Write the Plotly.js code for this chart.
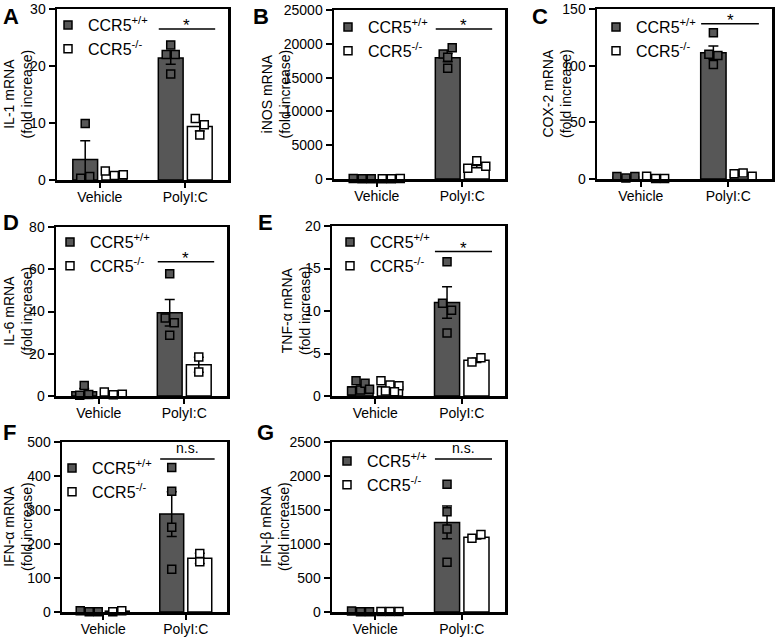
<!DOCTYPE html>
<html><head><meta charset="utf-8">
<script src="https://cdn.plot.ly/plotly-3.0.1.min.js"></script>
<style>html,body{margin:0;padding:0;background:#fff}#chart{width:777px;height:637px}</style>
</head><body><div id="chart"></div>
<script>
// ---------- DATA ----------
const categories = ['Vehicle', 'PolyI:C'];
const groupNames = ['CCR5<sup>+/+</sup>', 'CCR5<sup>-/-</sup>'];
const panelLetters = ['A', 'B', 'C', 'D', 'E', 'F', 'G'];
const yTitles = ['IL-1 mRNA<br>(fold increase)', 'iNOS mRNA<br>(fold increase)', 'COX-2 mRNA<br>(fold increase)',
  'IL-6 mRNA<br>(fold increase)', 'TNF-α mRNA<br>(fold increase)', 'IFN-α mRNA<br>(fold increase)', 'IFN-β mRNA<br>(fold increase)'];
const yMax = [30, 25000, 150, 80, 20, 500, 2500];
const yStep = [10, 5000, 50, 20, 5, 100, 500];
const sigLabels = ['*', '*', '*', '*', '*', 'n.s.', 'n.s.'];
const sigLevels = [26.5, 22200, 137, 63.5, 17, 450, 2250];

// IL-1
const il1WtPoints = [[9.9, 0.3, 0.6], [23.7, 22.0, 22.0, 18.6]];
const il1KoPoints = [[1.6, 0.8, 0.9], [10.8, 9.7, 7.9]];
const il1WtMean = [3.6, 21.4], il1WtErr = [3.3, 1.1];
const il1KoMean = [1.1, 9.4], il1KoErr = [0.2, 0.8];
// iNOS
const inosWtPoints = [[60, 50, 40], [18500, 18000, 19400, 16400]];
const inosKoPoints = [[40, 50, 60], [1600, 2700, 1900]];
const inosWtMean = [50, 17950], inosWtErr = [10, 620];
const inosKoMean = [50, 2000], inosKoErr = [5, 330];
// COX-2
const coxWtPoints = [[2.3, 0.8, 2.3], [129, 110, 109, 101]];
const coxKoPoints = [[2.4, 0.5, 0.5], [4.7, 5.3, 2.4]];
const coxWtMean = [1.8, 111.5], coxWtErr = [0.5, 5.8];
const coxKoMean = [1.1, 4.1], coxKoErr = [0.6, 0.9];
// IL-6
const il6WtPoints = [[5.0, 0.4, 0.7], [57.9, 36.9, 34.7, 28.7]];
const il6KoPoints = [[1.9, 0.6, 0.8], [18.5, 11.4]];
const il6WtMean = [2.0, 39.4], il6WtErr = [1.5, 6.3];
const il6KoMean = [1.1, 14.8], il6KoErr = [0.4, 3.5];
// TNF-alpha
const tnfWtPoints = [[1.8, 0.6, 0.7, 1.5, 0.8], [15.8, 10.9, 10.1, 7.4]];
const tnfKoPoints = [[1.8, 1.3, 1.2, 0.6, 0.5], [4.0, 4.5]];
const tnfWtMean = [1.1, 11.0], tnfWtErr = [0.25, 1.85];
const tnfKoMean = [1.1, 4.2], tnfKoErr = [0.25, 0.25];
// IFN-alpha
const ifnaWtPoints = [[4, 1, 1], [425, 355, 249, 126]];
const ifnaKoPoints = [[1, 4], [148, 172]];
const ifnaWtMean = [2, 288], ifnaWtErr = [1, 66];
const ifnaKoMean = [2.5, 158], ifnaKoErr = [1.5, 15];
// IFN-beta
const ifnbWtPoints = [[15, 5, 5], [1880, 1475, 1220, 732]];
const ifnbKoPoints = [[8, 8, 8], [1085, 1140]];
const ifnbWtMean = [8, 1318], ifnbWtErr = [3, 240];
const ifnbKoMean = [8, 1100], ifnbKoErr = [2, 25];

const panels = [
  {wtP: il1WtPoints, koP: il1KoPoints, wtM: il1WtMean, wtE: il1WtErr, koM: il1KoMean, koE: il1KoErr},
  {wtP: inosWtPoints, koP: inosKoPoints, wtM: inosWtMean, wtE: inosWtErr, koM: inosKoMean, koE: inosKoErr},
  {wtP: coxWtPoints, koP: coxKoPoints, wtM: coxWtMean, wtE: coxWtErr, koM: coxKoMean, koE: coxKoErr},
  {wtP: il6WtPoints, koP: il6KoPoints, wtM: il6WtMean, wtE: il6WtErr, koM: il6KoMean, koE: il6KoErr},
  {wtP: tnfWtPoints, koP: tnfKoPoints, wtM: tnfWtMean, wtE: tnfWtErr, koM: tnfKoMean, koE: tnfKoErr},
  {wtP: ifnaWtPoints, koP: ifnaKoPoints, wtM: ifnaWtMean, wtE: ifnaWtErr, koM: ifnaKoMean, koE: ifnaKoErr},
  {wtP: ifnbWtPoints, koP: ifnbKoPoints, wtM: ifnbWtMean, wtE: ifnbWtErr, koM: ifnbKoMean, koE: ifnbKoErr}
];

// ---------- LAYOUT GEOMETRY (pixels) ----------
const W = 777, H = 637;
const boxes = [ // [x0, x1, y0(top), y1(bottom)]
  [57, 228, 9, 180], [334, 505, 10, 179], [597, 772, 9, 179],
  [56, 227, 227, 396], [332, 505, 226, 396],
  [62, 227, 442, 612], [332, 505, 442, 612]
];
const legendPos = [[68, 20], [348, 22], [616, 22], [70, 237], [350, 237], [72, 463], [347, 456]];
const letterPos = [[1, 2], [251, 2], [530, 2], [1, 208], [256, 208], [1, 418], [255, 418]];
const yTitleX = [17, 275, 557, 17, 296, 18, 275];

const FONT = 'Arial, "Liberation Sans", sans-serif';
const DARK = '#575757';
const BAR_OFF = 0.17, BAR_W = 0.29;
const MARK = 8, STEP = 9;

function swarm(center, vals, yPx, xUnitPerPx) {
  const idx = vals.map((v, i) => i).sort((a, b) => vals[b] - vals[a]);
  const rows = []; let cur = null;
  idx.forEach(i => {
    if (cur && (vals[cur[0]] - vals[i]) * yPx < MARK && cur.length < 3) cur.push(i);
    else { cur = [i]; rows.push(cur); }
  });
  const xs = new Array(vals.length);
  rows.forEach(r => {
    r.sort((a, b) => a - b);
    r.forEach((i, k) => { xs[i] = center + (k - (r.length - 1) / 2) * STEP * xUnitPerPx; });
  });
  return xs;
}

const data = [], layout = {
  width: W, height: H, margin: {l: 0, r: 0, t: 0, b: 0},
  paper_bgcolor: '#fff', plot_bgcolor: '#fff', barmode: 'overlay', showlegend: true,
  font: {family: FONT, color: '#000'}, shapes: [], annotations: []
};

panels.forEach((p, n) => {
  const k = n === 0 ? '' : String(n + 1);
  const xa = 'x' + k, ya = 'y' + k;
  const [x0, x1, y0, y1] = boxes[n];
  const yPx = (y1 - y0) / yMax[n];
  const xUnitPerPx = 2 / (x1 - x0);
  const leg = n === 0 ? 'legend' : 'legend' + (n + 1);

  [[p.wtM, p.wtE, DARK, -BAR_OFF], [p.koM, p.koE, '#ffffff', BAR_OFF]].forEach(([m, e, col, off]) => {
    data.push({
      type: 'bar', x: categories.map((c, i) => i + off), y: m, width: BAR_W,
      xaxis: xa, yaxis: ya, showlegend: false, hoverinfo: 'skip',
      marker: {color: col, line: {color: '#000', width: 1.5}},
      error_y: {type: 'data', array: e, visible: true, color: '#000', thickness: 1.5, width: 5}
    });
  });
  [[p.wtP, DARK, -BAR_OFF, 0], [p.koP, '#ffffff', BAR_OFF, 1]].forEach(([pts, col, off, g]) => {
    let xs = [], ys = [];
    pts.forEach((vals, ci) => {
      xs = xs.concat(swarm(ci + off, vals, yPx, xUnitPerPx));
      ys = ys.concat(vals);
    });
    data.push({
      type: 'scatter', mode: 'markers', x: xs, y: ys, xaxis: xa, yaxis: ya,
      name: groupNames[g], legend: leg, cliponaxis: false, hoverinfo: 'skip',
      marker: {symbol: 'square', size: MARK, color: col, line: {color: '#000', width: 1.5}}
    });
  });

  layout['xaxis' + k] = {
    domain: [x0 / W, x1 / W], anchor: ya, range: [-0.5, 1.5],
    tickvals: categories.map((c, i) => i), ticktext: categories,
    ticks: 'outside', ticklen: 5, tickwidth: 2, tickcolor: '#000', ticklabelstandoff: -2,
    showline: true, linewidth: 2.5, linecolor: '#000', mirror: true,
    showgrid: false, zeroline: false, tickfont: {size: 14, family: FONT}, fixedrange: true
  };
  layout['yaxis' + k] = {
    domain: [1 - y1 / H, 1 - y0 / H], anchor: xa, range: [0, yMax[n]],
    dtick: yStep[n], tick0: 0, ticks: 'outside', ticklen: 6, tickwidth: 2, tickcolor: '#000',
    exponentformat: 'none', separatethousands: false, tickformat: 'd',
    showline: true, linewidth: 2.5, linecolor: '#000', mirror: true,
    showgrid: false, zeroline: false, tickfont: {size: 14, family: FONT}, fixedrange: true
  };
  layout[leg] = {
    x: (legendPos[n][0] - 20) / W, y: 1 - (legendPos[n][1] - 12) / H,
    xanchor: 'left', yanchor: 'top', bgcolor: 'rgba(0,0,0,0)', borderwidth: 0,
    font: {size: 16, family: FONT}, itemwidth: 30, tracegroupgap: 0
  };
  // y-axis title
  layout.annotations.push({xref: 'paper', yref: 'paper', x: yTitleX[n] / W, y: 1 - (y0 + y1) / 2 / H,
    xanchor: 'center', yanchor: 'middle', textangle: -90, showarrow: false, text: yTitles[n],
    font: {size: 14, family: FONT}});
  // significance bar
  layout.shapes.push({type: 'line', xref: xa, yref: ya, x0: 1 - 0.31, x1: 1 + 0.35,
    y0: sigLevels[n], y1: sigLevels[n], line: {color: '#000', width: 1.5}});
  layout.annotations.push({xref: xa, yref: ya, x: 1.02, y: sigLevels[n], text: sigLabels[n],
    showarrow: false, yanchor: 'bottom', yshift: sigLabels[n] === '*' ? -8 : 1,
    font: {size: sigLabels[n] === '*' ? 17 : 14, family: FONT}});
  layout.annotations.push({xref: 'paper', yref: 'paper', x: letterPos[n][0] / W, y: 1 - letterPos[n][1] / H,
    xanchor: 'left', yanchor: 'top', showarrow: false, text: '<b>' + panelLetters[n] + '</b>',
    font: {size: 22, family: FONT}});
});

Plotly.newPlot('chart', data, layout, {staticPlot: true});
</script>
</body></html>
